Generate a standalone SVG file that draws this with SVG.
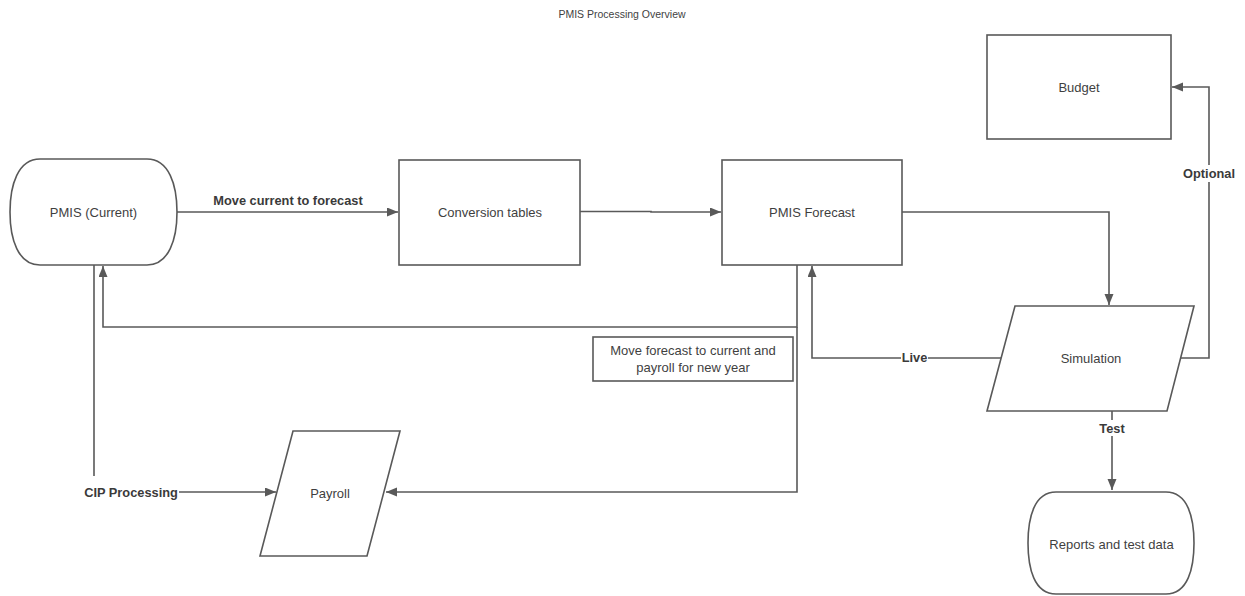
<svg xmlns="http://www.w3.org/2000/svg" width="1245" height="596" viewBox="0 0 1245 596">
  <style>
    .shape { fill: #ffffff; stroke: #595959; stroke-width: 1.6; }
    .conn { fill: none; stroke: #595959; stroke-width: 1.6; }
    .txt { font-family: "Liberation Sans", Arial, sans-serif; font-size: 13px; fill: #3f3f3f; text-anchor: middle; dominant-baseline: central; }
    .lbl { font-family: "Liberation Sans", Arial, sans-serif; font-size: 12.8px; font-weight: bold; fill: #3a3a3a; text-anchor: middle; dominant-baseline: central; }
    .bg { fill: #ffffff; stroke: none; }
    .title { font-family: "Liberation Sans", Arial, sans-serif; font-size: 10.5px; fill: #3f3f3f; text-anchor: middle; dominant-baseline: central; }
  </style>
  <defs>
    <marker id="arrow" markerUnits="userSpaceOnUse" markerWidth="12" markerHeight="10" refX="11" refY="4.5" orient="auto">
      <path d="M0,0 L11,4.5 L0,9 z" fill="#595959"/>
    </marker>
  </defs>
  <rect width="1245" height="596" fill="#ffffff"/>

  <text class="title" x="622" y="14">PMIS Processing Overview</text>

  <g id="connectors">
    <path class="conn" d="M177,212 L398,212" marker-end="url(#arrow)"/>
    <path class="conn" d="M580,211.5 L651,211.5 L651,212 L721,212" marker-end="url(#arrow)"/>
    <path class="conn" d="M902,212 L1109,212 L1109,305" marker-end="url(#arrow)"/>
    <path class="conn" d="M1180,358 L1209,358 L1209,87 L1172,87" marker-end="url(#arrow)"/>
    <path class="conn" d="M1001,358 L812,358 L812,266" marker-end="url(#arrow)"/>
    <path class="conn" d="M797,265 L797,327 L103,327 L103,266" marker-end="url(#arrow)"/>
    <path class="conn" d="M797,327 L797,492 L386,492" marker-end="url(#arrow)"/>
    <path class="conn" d="M94,265 L94,492 L276,492" marker-end="url(#arrow)"/>
    <path class="conn" d="M1112,411 L1112,490" marker-end="url(#arrow)"/>

    <rect class="bg" x="210" y="192" width="156" height="16"/>
    <text class="lbl" x="288" y="200">Move current to forecast</text>
    <rect class="bg" x="1182" y="165" width="54" height="17"/>
    <text class="lbl" x="1209" y="173">Optional</text>
    <rect class="bg" x="901" y="349" width="27" height="17"/>
    <text class="lbl" x="914.5" y="357">Live</text>
    <rect class="bg" x="1097" y="420" width="30" height="16"/>
    <text class="lbl" x="1112" y="428">Test</text>
    <rect class="bg" x="84" y="476" width="95" height="30"/>
    <text class="lbl" x="131" y="492">CIP Processing</text>
  </g>

  <g id="node-pmis-current">
    <path class="shape" d="M40,159 L147,159 C169,159 177,185 177,212 C177,239 169,265 147,265 L40,265 C18,265 10,239 10,212 C10,185 18,159 40,159 Z"/>
    <text class="txt" x="93.5" y="212">PMIS (Current)</text>
  </g>

  <g id="node-conversion">
    <rect class="shape" x="399" y="160" width="181" height="105"/>
    <text class="txt" x="490" y="212">Conversion tables</text>
  </g>

  <g id="node-forecast">
    <rect class="shape" x="722" y="160" width="180" height="105"/>
    <text class="txt" x="812" y="212">PMIS Forecast</text>
  </g>

  <g id="node-budget">
    <rect class="shape" x="987" y="35" width="184" height="104"/>
    <text class="txt" x="1079" y="87">Budget</text>
  </g>

  <g id="node-simulation">
    <polygon class="shape" points="1015,306 1194,306 1167,411 987,411"/>
    <text class="txt" x="1091" y="358">Simulation</text>
  </g>

  <g id="node-reports">
    <path class="shape" d="M1056,492 L1166,492 C1188,492 1194,518 1194,543 C1194,568 1188,594 1166,594 L1056,594 C1034,594 1028,568 1028,543 C1028,518 1034,492 1056,492 Z"/>
    <text class="txt" x="1111.5" y="544">Reports and test data</text>
  </g>

  <g id="node-payroll">
    <polygon class="shape" points="293,431 400,431 367,556 260,556"/>
    <text class="txt" x="330" y="493">Payroll</text>
  </g>

  <g id="node-note">
    <rect class="shape" x="593" y="337" width="200" height="44"/>
    <text class="txt" x="693" y="350">Move forecast to current and</text>
    <text class="txt" x="693" y="367">payroll for new year</text>
  </g>
</svg>
